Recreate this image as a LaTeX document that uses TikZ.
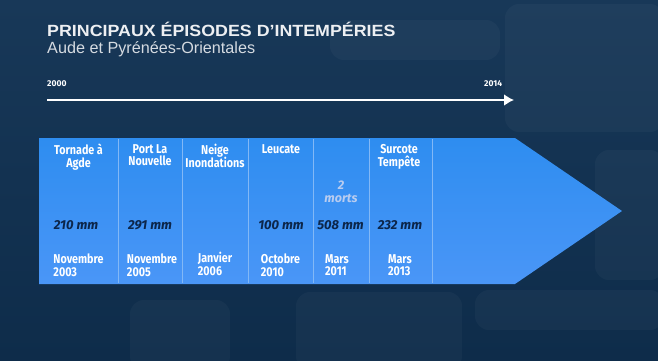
\documentclass[tikz,border=0pt]{standalone}
\usepackage{fontspec}
\setmainfont{Fira Sans}
\newfontfamily\titlefont{Liberation Sans}[FakeStretch=1.1]
\newfontfamily\subfont{Liberation Sans}
\newfontfamily\condfont{Fira Sans}[FakeStretch=0.84]
\usepackage{tikz}
\usetikzlibrary{arrows.meta,positioning}
\usepackage{xcolor}
\definecolor{navy}{RGB}{24,56,88}
\definecolor{navydark}{RGB}{14,44,74}
\definecolor{arrowblue}{RGB}{46,141,240}
\definecolor{arrowlight}{RGB}{74,150,247}
\definecolor{sepline}{RGB}{130,184,246}
\definecolor{mmtext}{RGB}{12,38,74}
\definecolor{deadtext}{RGB}{184,204,240}
\newcommand\tightlines{\lineskiplimit=-20pt\relax\vphantom{Nb}}

\begin{document}
\begin{tikzpicture}[
  x=1pt, y=-1pt,
  heading/.style={anchor=north, align=center, text=white, font=\condfont\bfseries\fontsize{12.8}{12.8}\selectfont, inner sep=0pt, execute at begin node=\tightlines},
  datebox/.style={anchor=north, align=left, text=white, font=\condfont\bfseries\fontsize{12.8}{12.8}\selectfont, inner sep=0pt, execute at begin node=\tightlines},
  amount/.style={anchor=base, text=mmtext, font=\bfseries\itshape\fontsize{13}{14}\selectfont, inner sep=0pt},
  year/.style={anchor=base west, text=white, font=\bfseries\fontsize{8.5}{9}\selectfont, inner sep=0pt},
  separator/.style={sepline, line width=0.8pt},
  timeline/.style={white, line width=2.6pt, -{Latex[length=10pt, width=12pt]}},
  glow/.style={white, opacity=0.03, rounded corners=14pt}
]
\useasboundingbox (0,0) rectangle (658,361);
% background
\shade[top color=navy, bottom color=navydark] (0,0) rectangle (658,361);
\fill[glow] (505,4) rectangle (664,132);
\fill[glow] (595,150) rectangle (664,280);
\fill[glow] (296,292) rectangle (462,370);
\fill[glow] (130,300) rectangle (230,370);
\fill[glow] (475,290) rectangle (664,330);
\fill[glow] (330,20) rectangle (500,60);

% title
\node[anchor=base west, inner sep=0pt, text=white!92!navy, font=\titlefont\bfseries\fontsize{16.2}{17}\selectfont] (title) at (47,37) {PRINCIPAUX ÉPISODES D’INTEMPÉRIES};
\node[anchor=base west, inner sep=0pt, text=white!82!navy, font=\subfont\fontsize{16.2}{17}\selectfont] (subtitle) at (47,53) {Aude et Pyrénées-Orientales};

% timeline
\node[year] (y2000) at (47,86) {2000};
\node[year] (y2014) at (484,86) {2014};
\coordinate (tstart) at (47,100);
\coordinate (tend) at (514,100);
\draw[timeline] (tstart) -- (tend);

% big arrow
\shade[top color=arrowblue, bottom color=arrowlight]
  (39,138) -- (515,138) -- (622,211) -- (515,284) -- (39,284) -- cycle;
\draw[separator] (118,139) -- (118,283);
\draw[separator] (182,139) -- (182,283);
\draw[separator] (248,139) -- (248,283);
\draw[separator] (313,139) -- (313,283);
\draw[separator] (369,139) -- (369,283);
\draw[separator] (432,139) -- (432,283);

% episodes
\node[heading] (head1) at (78.5,144) {Tornade à\\Agde};
\node[heading] (head2) at (150,144) {Port La\\Nouvelle};
\node[heading] (head3) at (215,144) {Neige\\Inondations};
\node[heading] (head4) at (281,144) {Leucate};
\node[heading] (head6) at (399,144) {Surcote\\Tempête};

\node[anchor=north, align=center, inner sep=0pt, text=deadtext, font=\bfseries\itshape\fontsize{12.5}{13}\selectfont] (dead5) at (341,181) {2\\morts};

\node[amount] (mm1) at (76,229) {210 mm};
\node[amount] (mm2) at (150,229) {291 mm};
\node[amount] (mm4) at (281,229) {100 mm};
\node[amount] (mm5) at (340.5,229) {508 mm};
\node[amount] (mm6) at (400,229) {232 mm};

\node[datebox] (date1) at (78.5,254) {Novembre\\2003};
\node[datebox] (date2) at (152,254) {Novembre\\2005};
\node[datebox] (date3) at (215,252) {Janvier\\2006};
\node[datebox] (date4) at (280.5,254) {Octobre\\2010};
\node[datebox] (date5) at (337,254) {Mars\\2011};
\node[datebox] (date6) at (400,254) {Mars\\2013};
\end{tikzpicture}
\end{document}
